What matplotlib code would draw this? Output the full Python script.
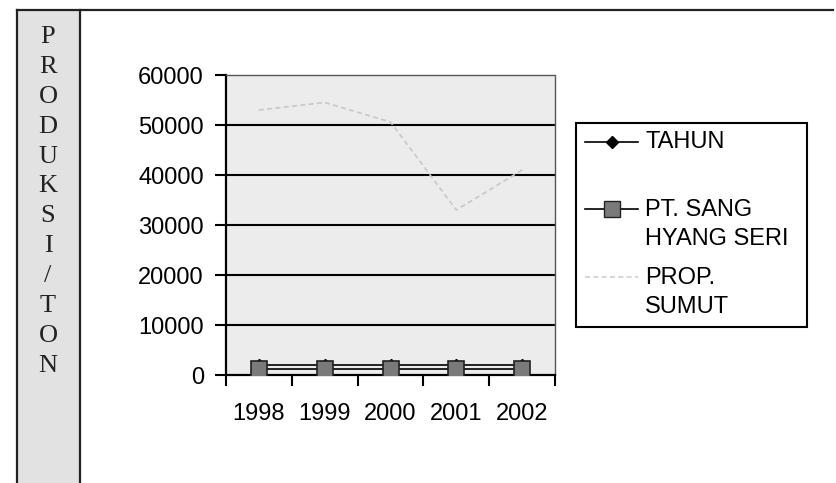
import matplotlib
matplotlib.use("Agg")
import matplotlib.pyplot as plt
from matplotlib.lines import Line2D
from matplotlib.patches import Rectangle

years = ["1998", "1999", "2000", "2001", "2002"]
tahun = [1998, 1999, 2000, 2001, 2002]
pt_shs = [1200, 1200, 1200, 1200, 1200]
prop_sumut = [53000, 54500, 50600, 33000, 41000]
yticks = [0, 10000, 20000, 30000, 40000, 50000, 60000]
ylabel = "PRODUKSI/TON"
legend_labels = ["TAHUN", "PT. SANG\nHYANG SERI", "PROP.\nSUMUT"]

W, H = 836, 483
fig = plt.figure(figsize=(W / 100, H / 100), dpi=100)
fig.patch.set_facecolor("white")

def fx(px):
    return px / W

def fy(py):
    return 1 - py / H

sans = ["Liberation Sans", "DejaVu Sans"]
serif = ["Liberation Serif", "DejaVu Serif"]
FS = 17

# outer frame and left label column
fig.patches.append(Rectangle((fx(17), 0), fx(80) - fx(17), fy(10), transform=fig.transFigure,
                             facecolor="#e2e2e2", edgecolor="none", zorder=0))
fig.add_artist(Line2D([fx(17), fx(833)], [fy(10), fy(10)], transform=fig.transFigure, color="#222", lw=1.6))
fig.add_artist(Line2D([fx(17), fx(17)], [fy(10), 0], transform=fig.transFigure, color="#222", lw=1.6))
fig.add_artist(Line2D([fx(80), fx(80)], [fy(10), 0], transform=fig.transFigure, color="#222", lw=1.6))

for i, ch in enumerate(ylabel):
    fig.text(fx(48), fy(37 + i * 29.9), ch, ha="center", va="center", fontsize=19,
             family=serif, color="#222")

ax = fig.add_axes([fx(226), fy(375), fx(555) - fx(226), fy(75) - fy(375)])
ax.set_facecolor("#ececec")
x = list(range(len(years)))

ax.plot(x, prop_sumut, color="#c8c8c8", lw=1.2, ls=(0, (3, 2)), zorder=2)
ax.plot(x, tahun, color="black", lw=1.2, marker="D", ms=6, mfc="black", mec="black", zorder=3)
ax.plot(x, pt_shs, color="black", lw=1.2, marker="s", ms=11, mfc="#7a7a7a", mec="#222", mew=1.2, zorder=4)

ax.set_xlim(-0.5, len(years) - 0.5)
ax.set_ylim(0, 60000)
ax.set_yticks(yticks)
ax.set_yticklabels([str(v) for v in yticks], fontsize=FS, family=sans)
for v in yticks[1:-1]:
    ax.axhline(v, color="black", lw=1.5, zorder=1)

ax.set_xticks([i - 0.5 for i in range(len(years) + 1)])
ax.set_xticklabels([])
ax.set_xticks(x, minor=True)
ax.set_xticklabels(years, minor=True, fontsize=FS, family=sans)
ax.tick_params(axis="x", which="major", length=8, width=1.5, direction="out", color="black")
ax.tick_params(axis="x", which="minor", length=0, pad=20)
ax.tick_params(axis="y", length=8, width=1.5, direction="out", pad=8)

for s in ["left", "bottom"]:
    ax.spines[s].set_color("black")
    ax.spines[s].set_linewidth(1.6)
for s in ["top", "right"]:
    ax.spines[s].set_color("#555")
    ax.spines[s].set_linewidth(1.0)
    ax.spines[s].set_linestyle((0, (1, 1)))

# legend drawn as a framed box in figure coordinates
fig.patches.append(Rectangle((fx(576), fy(327)), fx(807) - fx(576), fy(123) - fy(327),
                             transform=fig.transFigure, facecolor="white", edgecolor="black",
                             lw=1.5, zorder=5))
entries = [
    (142, 142, dict(color="black", lw=1.2, marker="D", ms=6, mfc="black", mec="black")),
    (209, 224.5, dict(color="black", lw=1.2, marker="s", ms=11, mfc="#7a7a7a", mec="#222")),
    (277, 292.5, dict(color="#d0d0d0", lw=1.2, ls=(0, (3, 2)))),
]
for (ly, ty, style), lab in zip(entries, legend_labels):
    fig.add_artist(Line2D([fx(585), fx(638)], [fy(ly), fy(ly)], transform=fig.transFigure,
                          zorder=6, **{k: v for k, v in style.items() if k not in ("marker", "ms", "mfc", "mec")}))
    if "marker" in style:
        fig.add_artist(Line2D([fx(612)], [fy(ly)], transform=fig.transFigure, ls="none",
                              marker=style["marker"], ms=style["ms"], mfc=style["mfc"],
                              mec=style["mec"], zorder=7))
    fig.text(fx(645), fy(ty), lab, ha="left", va="center", fontsize=FS, family=sans,
             linespacing=1.45, zorder=7)

fig.savefig("out.png", dpi=100)
